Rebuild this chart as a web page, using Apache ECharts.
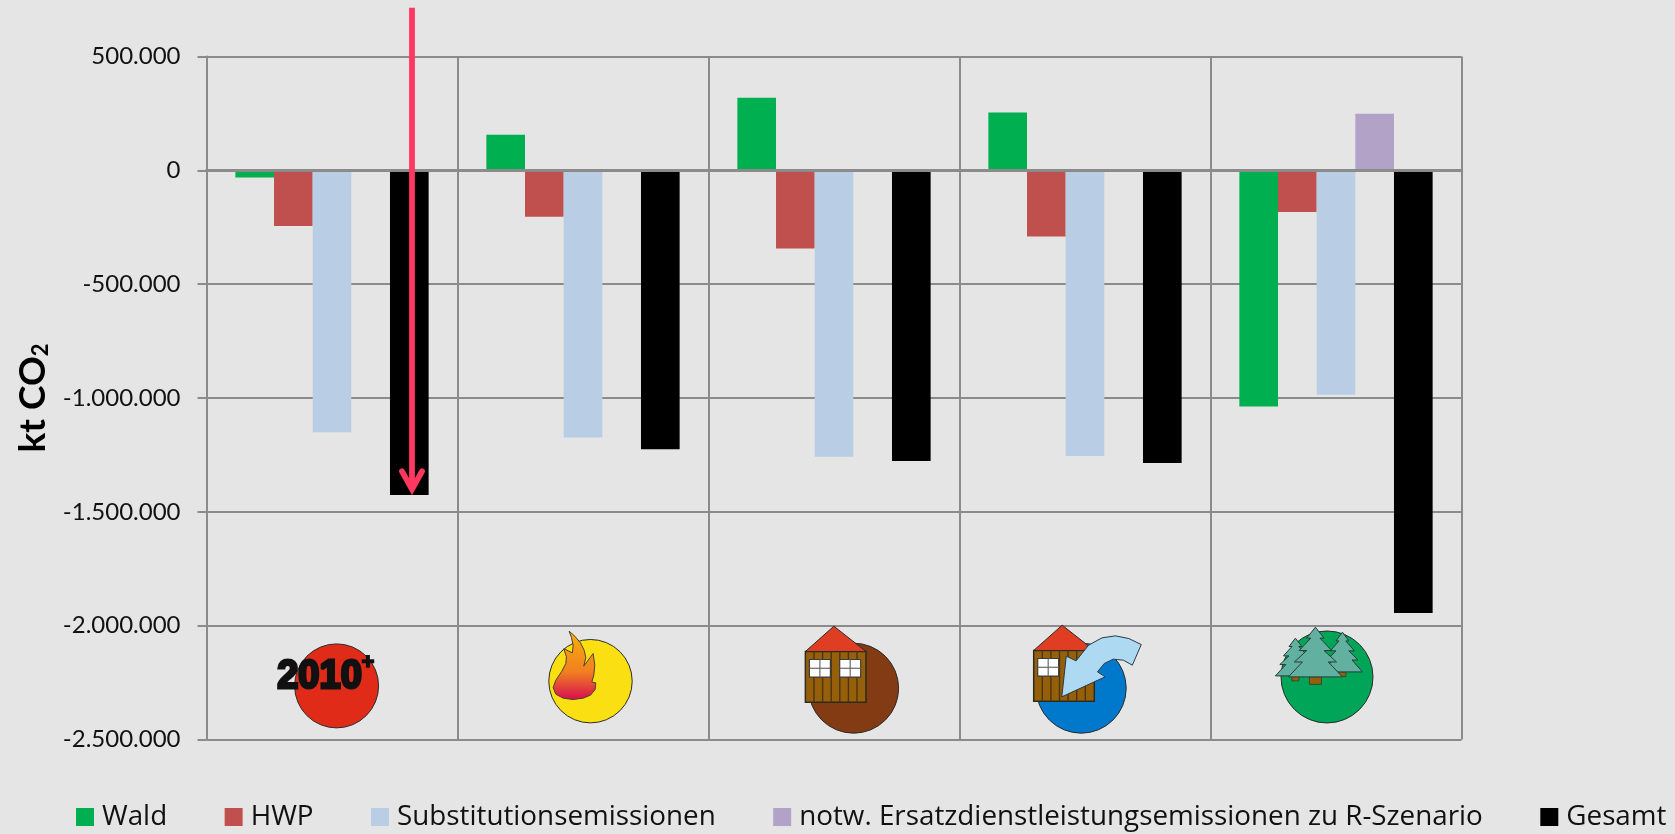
<!DOCTYPE html>
<html>
<head>
<meta charset="utf-8">
<title>kt CO2 je Szenario</title>
<style>
  html, body { margin: 0; padding: 0; background: #e5e5e5; }
  #chart { width: 1675px; height: 834px; }
</style>
<script src="https://cdn.jsdelivr.net/npm/echarts@6/dist/echarts.min.js"></script>
</head>
<body>
<div id="chart"></div>
<script>
// Scenario categories and emission balances in kt CO2
const scenarios = ['2010+', 'Energie', 'Holzbau', 'Holzbau Kaskade', 'Wald'];
const wald = [-32000, 156000, 319000, 254000, -1037000];
const hwp = [-244000, -204000, -343000, -291000, -183000];
const substitution = [-1150000, -1174000, -1258000, -1255000, -986000];
const ersatz = [null, null, null, null, 249000];
const gesamt = [-1426000, -1225000, -1277000, -1286000, -1944000];

// Value-axis range and the heights at which the annotations sit
const axisMin = -2500000;
const axisMax = 500000;
const axisStep = 500000;
const iconLevel = -2250000;
const arrowFrom = 714000;
const arrowTo = -1410000;

const GRID = '#8b8b8b';
const INK = '#111111';
const OUTLINE = { stroke: '#2b2b2b', lineWidth: 1 };

const germanNumber = v => {
  const s = String(Math.abs(v)).replace(/\B(?=(\d{3})+$)/g, '.');
  return (v < 0 ? '-' : '') + s;
};

const shape = (type, s, style, extra) =>
  Object.assign({ type, shape: s, style }, extra || {});
const poly = (points, style) => shape('polygon', { points }, style);
const disc = (cx, cy, r, fill) => shape('circle', { cx, cy, r }, Object.assign({ fill }, OUTLINE));

// Wooden house: plank wall, red roof, and one or two four-pane windows
function house(x, top, windowCount) {
  const w = 60.6, roofH = 25.3, wallH = 50.7, wallY = top + roofH;
  const parts = [
    shape('rect', { x, y: wallY, width: w, height: wallH },
      { fill: '#96600a', stroke: '#2e2a1c', lineWidth: 1.5 }),
    poly([[x, wallY], [x + w * 0.47, top], [x + w, wallY]],
      { fill: '#e03e23', stroke: '#2b2b2b', lineWidth: 1 })
  ];
  for (let i = 1; i <= 6; i++) {
    parts.push(shape('line',
      { x1: x + i * 8.6, y1: wallY, x2: x + i * 8.6, y2: wallY + wallH },
      { stroke: '#4b3510', lineWidth: 1.4 }));
  }
  for (let i = 0; i < windowCount; i++) {
    const wx = x + 4 + i * 30.3, wy = wallY + 8, ww = 21, wh = 17.6;
    parts.push(shape('rect', { x: wx, y: wy, width: ww, height: wh },
      { fill: '#ffffff', stroke: '#3a3a3a', lineWidth: 1.2 }));
    parts.push(shape('line', { x1: wx + ww / 2, y1: wy, x2: wx + ww / 2, y2: wy + wh },
      { stroke: '#6a6a6a', lineWidth: 1.2 }));
    parts.push(shape('line', { x1: wx, y1: wy + wh / 2, x2: wx + ww, y2: wy + wh / 2 },
      { stroke: '#6a6a6a', lineWidth: 1.2 }));
  }
  return parts;
}

// Three-tier fir tree with a small trunk
function fir(cx, top, halfWidth, height, trunkWidth, trunkHeight) {
  const profile = [[0.32, 0.22], [0.17, 0.22], [0.6, 0.47], [0.32, 0.47], [0.78, 0.7], [0.48, 0.7], [1, 1]];
  const right = profile.map(p => [cx + p[0] * halfWidth, top + p[1] * height]);
  const left = profile.slice().reverse().map(p => [cx - p[0] * halfWidth, top + p[1] * height]);
  return [
    shape('rect', { x: cx - trunkWidth / 2, y: top + height, width: trunkWidth, height: trunkHeight },
      { fill: '#96600a', stroke: '#2e4a30', lineWidth: 1 }),
    poly([[cx, top]].concat(right, left),
      { fill: '#62b09f', stroke: '#243f38', lineWidth: 1 })
  ];
}

// Outlines below are relative to each scenario's icon anchor
const iconBuilders = [
  () => [
    disc(4.6, 3.3, 42, '#e02b19'),
    { type: 'text', x: -12.5, y: -5.5, scaleX: 0.95,
      style: { text: '2010', fontFamily: 'Liberation Sans', fontWeight: 'bold', fontSize: 40,
        fill: INK, stroke: INK, lineWidth: 3, lineJoin: 'round', align: 'center', verticalAlign: 'middle' } },
    { type: 'text', x: 36, y: -20,
      style: { text: '+', fontFamily: 'Liberation Sans', fontWeight: 'bold', fontSize: 22,
        fill: INK, stroke: INK, lineWidth: 1.5, align: 'center', verticalAlign: 'middle' } }
  ],
  () => {
    const outline = [[1108, 93], [1125, 108], [1142, 128], [1153, 150], [1158, 172], [1152, 198], [1165, 180],
      [1180, 160], [1185, 195], [1182, 225], [1176, 246], [1188, 248], [1186, 268], [1172, 285], [1150, 294],
      [1120, 298], [1090, 294], [1068, 282], [1060, 262], [1068, 240], [1085, 215], [1098, 190], [1100, 170],
      [1092, 145], [1105, 152], [1118, 158], [1120, 135], [1115, 112]]
      .map(p => [p[0] / 3 - 383.2, p[1] / 3 - 82.4]);
    return [
      disc(7.5, -1.4, 41.7, '#fae013'),
      poly(outline, {
        fill: { type: 'linear', x: 0, y: 0, x2: 0, y2: 1, colorStops: [
          { offset: 0, color: '#f9b00a' }, { offset: 0.6, color: '#f07f22' }, { offset: 1, color: '#d80a50' }] },
        stroke: '#4d4030', lineWidth: 1
      })
    ];
  },
  () => [disc(19.6, 5.6, 45, '#823b13')].concat(house(-28.6, -56.4, 2)),
  () => {
    const sweep = [[810, 290], [820, 168], [842, 182], [870, 135], [900, 113], [930, 107], [960, 115], [988, 133],
      [968, 195], [948, 180], [925, 177], [905, 190], [890, 215], [907, 230]]
      .map(p => [p[0] / 2.24 + 700 - 1084.8, p[1] / 3 + 600 - 682.4]);
    return [disc(-3.8, 5.6, 45, '#0079cc')].concat(
      house(-51.3, -57.4, 1),
      [poly(sweep, { fill: '#aed9f2', stroke: '#2b3a44', lineWidth: 1 })]
    );
  },
  () => [disc(-9, -5.6, 46, '#00a557')].concat(
    fir(6.4, -50.4, 20, 39.7, 7, 4.5),
    fir(-40.6, -44.4, 20, 37.7, 7, 5),
    fir(-20.6, -55.4, 27, 49.7, 12, 7.5)
  )
];

const renderIcon = (params, api) => {
  const at = api.coord([api.value(0), api.value(1)]);
  return { type: 'group', x: at[0], y: at[1], children: iconBuilders[params.dataIndex]() };
};

// Downward arrow laid over the first scenario's total bar
const renderArrow = (params, api) => {
  const from = api.coord([api.value(0), api.value(1)]);
  const to = api.coord([api.value(0), api.value(2)]);
  const x = from[0] + 80;
  const stroke = { stroke: '#ff3860', lineWidth: 5.8, fill: 'none' };
  return {
    type: 'group',
    children: [
      shape('line', { x1: x, y1: from[1], x2: x, y2: to[1] - 6 }, stroke),
      shape('polyline', { points: [[x - 10, to[1] - 20], [x, to[1] - 2], [x + 10, to[1] - 20]] },
        Object.assign({ lineCap: 'round', lineJoin: 'miter' }, stroke))
    ]
  };
};

const barSeries = (name, data, color) => ({
  name, type: 'bar', data, barGap: '0%', barCategoryGap: '23%',
  itemStyle: { color }, z: 2
});

const chart = echarts.init(document.getElementById('chart'), null, { renderer: 'canvas' });
chart.setOption({
  animation: false,
  backgroundColor: '#e5e5e5',
  textStyle: { fontFamily: 'Lato' },
  grid: { left: 206.5, right: 213.5, top: 56.5, bottom: 94.5, containLabel: false },
  legend: {
    left: 76, top: 803, width: 1599, itemWidth: 18, itemHeight: 18, itemGap: 57.5, padding: 0,
    icon: 'rect', selectedMode: false,
    data: ['Wald', 'HWP', 'Substitutionsemissionen',
      'notw. Ersatzdienstleistungsemissionen zu R-Szenario', 'Gesamt'],
    textStyle: { fontFamily: 'Open Sans', fontSize: 27.8, color: INK, padding: [0, 0, 0, 3] }
  },
  xAxis: {
    type: 'category', data: scenarios, z: 3,
    axisLine: { onZero: true, lineStyle: { color: GRID, width: 3 } },
    axisTick: { show: true, alignWithLabel: false, length: 8, lineStyle: { color: GRID, width: 2 } },
    axisLabel: { show: false },
    splitLine: { show: true, lineStyle: { color: GRID, width: 2 } }
  },
  yAxis: {
    type: 'value', min: axisMin, max: axisMax, interval: axisStep,
    name: 'kt CO{sub|2}', nameLocation: 'middle', nameGap: 152, nameRotate: 90,
    nameTextStyle: {
      fontFamily: 'Lato', fontWeight: 'bold', fontSize: 37, color: '#000000',
      rich: { sub: { fontFamily: 'Lato', fontWeight: 'bold', fontSize: 22, color: '#000000', padding: [14, 0, 0, 0] } }
    },
    axisLine: { show: true, lineStyle: { color: GRID, width: 2 } },
    axisTick: { show: true, length: 9, lineStyle: { color: GRID, width: 2 } },
    axisLabel: { formatter: germanNumber, fontFamily: 'Lato', fontSize: 24, color: INK, margin: 26 },
    splitLine: { show: true, lineStyle: { color: GRID, width: 2 } }
  },
  series: [
    barSeries('Wald', wald, '#00b050'),
    barSeries('HWP', hwp, '#c0504d'),
    barSeries('Substitutionsemissionen', substitution, '#b9cde5'),
    barSeries('notw. Ersatzdienstleistungsemissionen zu R-Szenario', ersatz, '#b3a2c7'),
    barSeries('Gesamt', gesamt, '#000000'),
    {
      type: 'custom', name: 'Szenario-Symbole', renderItem: renderIcon, z: 5, silent: true, clip: false,
      data: scenarios.map((_, i) => [i, iconLevel])
    },
    {
      type: 'custom', name: 'Pfeil', renderItem: renderArrow, z: 6, silent: true, clip: false,
      encode: { x: 0, y: [1, 2] },
      data: [[0, arrowFrom, arrowTo]]
    }
  ]
});
</script>
</body>
</html>
